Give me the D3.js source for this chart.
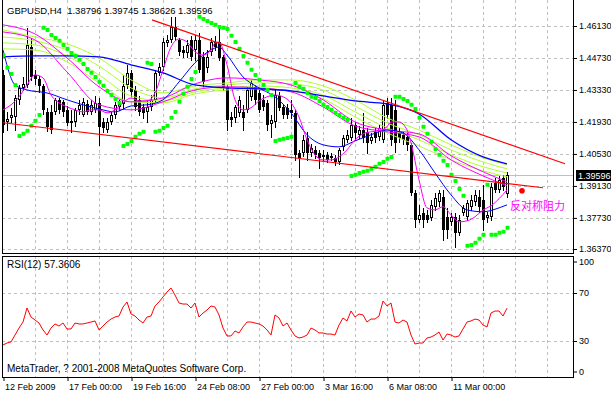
<!DOCTYPE html>
<html><head><meta charset="utf-8">
<script src="https://cdn.jsdelivr.net/npm/d3@7"></script>
<style>
body{margin:0;background:#fff}
svg{display:block}
text{font-family:"Liberation Sans",Arial,sans-serif;font-size:9px;fill:#000}
</style>
</head><body>
<svg id="c" width="611" height="395"></svg>
<script>
// ---------- data ----------
const symbol = "GBPUSD,H4";
const open = [1.4399,1.4193,1.4211,1.4215,1.4290,1.4342,1.4355,1.4521,1.4399,1.4381,
 1.4351,1.4237,1.4237,1.4237,1.4290,1.4281,1.4246,1.4198,1.4193,1.4246,
 1.4224,1.4272,1.4237,1.4246,1.4277,1.4193,1.4158,1.4193,1.4224,1.4259,
 1.4272,1.4355,1.4408,1.4333,1.4290,1.4259,1.4237,1.4259,1.4290,1.4408,
 1.4434,1.4539,1.4552,1.4609,1.4552,1.4508,1.4495,1.4552,1.4508,1.4552,
 1.4478,1.4430,1.4500,1.4543,1.4543,1.4478,1.4347,1.4215,1.4211,1.4233,
 1.4237,1.4246,1.4303,1.4347,1.4320,1.4290,1.4277,1.4185,1.4193,1.4307,
 1.4259,1.4255,1.4246,1.4233,1.4058,1.4058,1.4123,1.4058,1.4071,1.4058,
 1.4040,1.4049,1.4036,1.4036,1.4018,1.4084,1.4115,1.4123,1.4180,1.4137,
 1.4158,1.4150,1.4110,1.4150,1.4128,1.4115,1.4277,1.4268,1.4246,1.4145,
 1.4137,1.4128,1.4093,1.3883,1.3765,1.3795,1.3787,1.3773,1.3822,1.3843,
 1.3865,1.3778,1.3756,1.3778,1.3708,1.3795,1.3778,1.3822,1.3843,1.3865,
 1.3852,1.3773,1.3778,1.3927,1.3896,1.3948,1.38796];
const high = [1.4421,1.4237,1.4255,1.4311,1.4355,1.4390,1.4605,1.4561,1.4421,1.4395,
 1.4360,1.4255,1.4268,1.4298,1.4298,1.4290,1.4263,1.4246,1.4255,1.4290,
 1.4298,1.4290,1.4290,1.4307,1.4298,1.4211,1.4211,1.4237,1.4281,1.4290,
 1.4399,1.4443,1.4421,1.4351,1.4307,1.4272,1.4290,1.4311,1.4421,1.4452,
 1.4561,1.4574,1.4653,1.4653,1.4561,1.4526,1.4552,1.4570,1.4574,1.4583,
 1.4500,1.4508,1.4561,1.4570,1.4609,1.4486,1.4355,1.4237,1.4268,1.4307,
 1.4268,1.4347,1.4377,1.4355,1.4333,1.4311,1.4290,1.4224,1.4333,1.4325,
 1.4272,1.4272,1.4290,1.4246,1.4071,1.4137,1.4150,1.4097,1.4088,1.4071,
 1.4071,1.4062,1.4058,1.4049,1.4080,1.4137,1.4158,1.4211,1.4193,1.4176,
 1.4233,1.4167,1.4145,1.4167,1.4180,1.4290,1.4298,1.4298,1.4290,1.4167,
 1.4150,1.4145,1.4102,1.3896,1.3830,1.3817,1.3808,1.3852,1.3883,1.3896,
 1.3896,1.3817,1.3795,1.3795,1.3787,1.3830,1.3852,1.3874,1.3896,1.3896,
 1.3918,1.3800,1.3927,1.3948,1.3957,1.3962,1.39745];
const low = [1.4150,1.4158,1.4193,1.4158,1.4272,1.4333,1.4347,1.4377,1.4360,1.4325,
 1.4228,1.4154,1.4145,1.4228,1.4233,1.4220,1.4180,1.4150,1.4176,1.4228,
 1.4220,1.4228,1.4228,1.4237,1.4093,1.4150,1.4150,1.4185,1.4211,1.4246,
 1.4255,1.4342,1.4307,1.4246,1.4224,1.4211,1.4193,1.4246,1.4281,1.4399,
 1.4421,1.4526,1.4543,1.4552,1.4486,1.4478,1.4478,1.4465,1.4465,1.4412,
 1.4342,1.4412,1.4486,1.4508,1.4465,1.4333,1.4158,1.4176,1.4193,1.4220,
 1.4158,1.4237,1.4290,1.4272,1.4237,1.4246,1.4158,1.4128,1.4172,1.4246,
 1.4211,1.4211,1.4211,1.4027,1.3953,1.4045,1.4027,1.4045,1.4036,1.3992,
 1.4027,1.4018,1.4027,1.4005,1.4010,1.4071,1.4106,1.4115,1.4115,1.4123,
 1.4106,1.4058,1.4102,1.4106,1.4115,1.4106,1.4211,1.4093,1.4062,1.4106,
 1.4097,1.4071,1.3874,1.3734,1.3756,1.3734,1.3756,1.3765,1.3808,1.3826,
 1.3677,1.3686,1.3743,1.3647,1.3699,1.3787,1.3765,1.3808,1.3830,1.3800,
 1.3721,1.3756,1.3765,1.3887,1.3887,1.3896,1.38626];
const close = [1.4180,1.4207,1.4224,1.4298,1.4342,1.4360,1.4530,1.4390,1.4381,1.4351,
 1.4246,1.4172,1.4158,1.4290,1.4246,1.4237,1.4189,1.4189,1.4246,1.4268,
 1.4281,1.4237,1.4268,1.4277,1.4172,1.4167,1.4193,1.4224,1.4268,1.4272,
 1.4351,1.4408,1.4325,1.4259,1.4237,1.4233,1.4259,1.4290,1.4408,1.4434,
 1.4543,1.4552,1.4609,1.4565,1.4500,1.4495,1.4530,1.4478,1.4552,1.4421,
 1.4368,1.4478,1.4543,1.4521,1.4473,1.4347,1.4202,1.4202,1.4259,1.4290,
 1.4211,1.4333,1.4364,1.4290,1.4246,1.4259,1.4180,1.4202,1.4311,1.4255,
 1.4224,1.4224,1.4233,1.4049,1.4036,1.4115,1.4058,1.4080,1.4049,1.4036,
 1.4049,1.4027,1.4045,1.4018,1.4071,1.4123,1.4137,1.4180,1.4145,1.4158,
 1.4123,1.4102,1.4128,1.4123,1.4167,1.4268,1.4224,1.4115,1.4102,1.4123,
 1.4115,1.4093,1.3883,1.3765,1.3787,1.3765,1.3765,1.3830,1.3861,1.3883,
 1.3721,1.3721,1.3778,1.3708,1.3765,1.3817,1.3839,1.3852,1.3874,1.3822,
 1.3765,1.3787,1.3909,1.3896,1.3940,1.3909,1.39596];
const sar = [1.4486,1.4430,1.4403,1.4355,1.4132,1.4141,1.4154,1.4176,1.4198,1.4224,
 1.4605,1.4596,1.4574,1.4561,1.4548,1.4530,1.4513,1.4495,1.4482,1.4465,
 1.4447,1.4425,1.4408,1.4390,1.4368,1.4351,1.4329,1.4311,1.4294,1.4277,
 1.4088,1.4097,1.4110,1.4128,1.4141,1.4150,1.4452,1.4447,1.4150,1.4154,
 1.4167,1.4176,1.4211,1.4237,1.4281,1.4316,1.4347,1.4381,1.4412,1.4653,
 1.4644,1.4635,1.4626,1.4618,1.4609,1.4605,1.4600,1.4570,1.4543,1.4513,
 1.4482,1.4452,1.4421,1.4399,1.4377,1.4355,1.4333,1.4311,1.4110,1.4115,
 1.4119,1.4123,1.4128,1.4364,1.4347,1.4338,1.4320,1.4303,1.4298,1.4285,
 1.4268,1.4259,1.4246,1.4233,1.4224,1.4211,1.4202,1.3957,1.3962,1.3970,
 1.3975,1.3979,1.3988,1.3997,1.4010,1.4018,1.4032,1.4040,1.4303,1.4303,
 1.4294,1.4285,1.4268,1.4250,1.4211,1.4172,1.4141,1.4106,1.4075,1.4049,
 1.4023,1.4005,1.3962,1.3935,1.3900,1.3870,1.3651,1.3655,1.3664,1.3682,
 1.3699,1.3918,1.3699,1.3699,1.3708,1.3712,1.3730];
const rsi = [26.7,28.3,29.2,35,40.8,45.8,57.5,50,47.5,45,
 39.2,35,40.8,44.2,42.5,45,40,40,45,44.2,
 44.2,45,45.8,46.7,39.2,42.5,45.8,48.3,50,50.8,
 58.3,62.5,52.5,50.8,47.5,45,50,50.8,59.2,62.5,
 66.7,70.8,74.2,68.3,61.7,60.8,60.8,57.5,61.7,50,
 53.3,55.8,59.2,58.3,51.7,40.8,34.2,34.2,38.3,36.7,
 41.7,45.8,45.8,45,44.2,42.5,39.2,35,51.7,49.2,
 42.5,45,39.2,34.2,32.5,33.3,35,40.8,39.2,36.7,
 36.7,35.8,35.8,35,43.3,49.2,46.7,55,50,52.5,
 51.7,45.8,48.3,48.3,50.8,63.3,59.2,61.7,45.8,45,
 47.5,45.8,35,27.5,28.3,28.3,32.5,33.3,35,37.5,
 30.8,35.8,35,33.3,34.2,40,45.8,46.7,48.3,47.5,
 43.3,41.7,53.3,55,55,50.8,57.3606];

// moving-average lines, read at sampled bar indices
const maIdx = [0,8,16,24,32,40,48,56,64,72,80,88,96,104,112,120,126];
const blueSlow = [1.4478,1.4482,1.4482,1.4478,1.4443,1.4408,1.4355,1.4342,1.4338,1.4329,1.4307,1.4285,1.4272,1.4228,1.4115,1.4040,1.4010];
const magSlow1 = [1.4618,1.4578,1.4473,1.4347,1.4281,1.4298,1.4360,1.4386,1.4377,1.4355,1.4290,1.4193,1.4158,1.4141,1.4045,1.3975,1.3931];
const magSlow2 = [1.4587,1.4552,1.4412,1.4268,1.4246,1.4281,1.4333,1.4347,1.4342,1.4325,1.4259,1.4176,1.4150,1.4128,1.4027,1.3957,1.3914];
const green1 = [1.4596,1.4565,1.4535,1.4473,1.4377,1.4320,1.4351,1.4364,1.4377,1.4377,1.4351,1.4290,1.4211,1.4158,1.4093,1.4036,1.4005];
const green2 = [1.4565,1.4548,1.4508,1.4438,1.4342,1.4298,1.4338,1.4355,1.4364,1.4360,1.4333,1.4263,1.4189,1.4137,1.4071,1.4018,1.3988];
const green3 = [1.4539,1.4530,1.4482,1.4399,1.4307,1.4285,1.4325,1.4342,1.4351,1.4342,1.4311,1.4237,1.4167,1.4115,1.4049,1.3997,1.3970];
const green4 = [1.4513,1.4508,1.4456,1.4364,1.4281,1.4277,1.4316,1.4333,1.4338,1.4329,1.4294,1.4215,1.4145,1.4088,1.4027,1.3979,1.3953];
const blueFastIdx = [0,3,6,11,16,20,24,28,32,36,40,44,48,52,54,56,60,64,68,72,76,80,84,88,92,96,100,104,108,112,116,120,124,126];
const blueFast = [1.4508,1.4355,1.4333,1.4320,1.4290,1.4268,1.4250,1.4237,1.4263,1.4268,
 1.4290,1.4368,1.4452,1.4508,1.4521,1.4486,1.4390,1.4342,1.4303,1.4233,
 1.4137,1.4093,1.4084,1.4110,1.4137,1.4158,1.4145,1.4071,1.3970,1.3874,
 1.3808,1.3800,1.3817,1.3830];
const magFastIdx = [0,2,4,6,8,10,12,14,16,18,20,22,24,26,28,30,32,34,36,38,40,42,44,46,48,
 50,52,53,54,56,58,60,62,64,66,68,70,72,74,76,78,80,82,84,86,88,90,92,94,96,
 97,99,101,102,104,106,108,110,112,114,116,118,120,122,124,126];
const magFast = [1.4246,1.4268,1.4303,1.4355,1.4399,1.4386,1.4311,1.4277,1.4259,1.4246,
 1.4237,1.4246,1.4246,1.4233,1.4246,1.4277,1.4298,1.4285,1.4285,1.4320,
 1.4421,1.4521,1.4556,1.4543,1.4500,1.4486,1.4508,1.4539,1.4543,1.4443,
 1.4290,1.4246,1.4255,1.4285,1.4303,1.4311,1.4303,1.4277,1.4215,1.4115,
 1.4049,1.4027,1.4027,1.4040,1.4071,1.4115,1.4141,1.4150,1.4154,1.4172,
 1.4193,1.4193,1.4158,1.4102,1.3940,1.3817,1.3808,1.3822,1.3787,1.3756,
 1.3760,1.3778,1.3808,1.3826,1.3857,1.3896];

// drawn objects
const trendUpperIdx = [37.25, 140.5], trendUpperPx = [1.4640, 1.4010];
const trendLowerIdx = [-0.25, 135], trendLowerPx = [1.4190, 1.3905];
const markerIdx = 129.75, markerPx = 1.3892;
const noteText = "反对称阻力", noteIdx = 126.75, notePx = 1.3830;

// axes
const priceTickLabels = ["1.46130","1.44730","1.43330","1.41930","1.40530","1.39130","1.37730","1.36370"];
const timeTickIdx = [0,16,32,48,64,80,96,112];
const timeTickLabels = ["12 Feb 2009","17 Feb 00:00","19 Feb 16:00","24 Feb 08:00","27 Feb 00:00","3 Mar 16:00","6 Mar 08:00","11 Mar 00:00"];
const rsiTicks = [100,70,30,0];
const rsiGrid = [70,30];
const rsiPeriod = 12;
const copyright = "MetaTrader, ? 2001-2008 MetaQuotes Software Corp.";

// ---------- layout ----------
const L = 2, R = 573, mainBot = 253, rsiTop = 256, rsiBot = 377;
const svg = d3.select("#c");
svg.append("rect").attr("width",611).attr("height",395).attr("fill","#fff");

const x = d3.scaleLinear().domain([0,126]).range([3,507]);
const y = d3.scaleLinear().domain([1.3637,1.4613]).range([249,26]);
const yR = d3.scaleLinear().domain([0,100]).range([377,257]);
const col = i => Math.round(x(i));
const crisp = v => Math.round(v) + 0.5;

const defs = svg.append("defs");
defs.append("clipPath").attr("id","cm").append("rect").attr("x",L+1).attr("y",0).attr("width",R-L-1).attr("height",mainBot);
defs.append("clipPath").attr("id","cr").append("rect").attr("x",L+1).attr("y",rsiTop+1).attr("width",R-L-1).attr("height",rsiBot-rsiTop-1);

const gridColor = "#c0c0c0", dash = "3,3";
const gridIdx = d3.range(8, 137, 8);

// grid main
const gm = svg.append("g").attr("shape-rendering","crispEdges");
gm.selectAll("line.h").data(priceTickLabels.map(Number)).join("line")
  .attr("x1",L).attr("x2",R).attr("y1",d=>crisp(y(d))).attr("y2",d=>crisp(y(d)))
  .attr("stroke",gridColor).attr("stroke-dasharray",dash);
gm.selectAll("line.v").data(gridIdx).join("line")
  .attr("x1",d=>col(d)+0.5).attr("x2",d=>col(d)+0.5).attr("y1",0).attr("y2",mainBot)
  .attr("stroke",gridColor).attr("stroke-dasharray",dash);
// grid rsi
const gr = svg.append("g").attr("shape-rendering","crispEdges");
gr.selectAll("line.h").data(rsiGrid).join("line")
  .attr("x1",L).attr("x2",R).attr("y1",d=>crisp(yR(d))).attr("y2",d=>crisp(yR(d)))
  .attr("stroke",gridColor).attr("stroke-dasharray",dash);
gr.selectAll("line.v").data(gridIdx).join("line")
  .attr("x1",d=>col(d)+0.5).attr("x2",d=>col(d)+0.5).attr("y1",rsiTop).attr("y2",rsiBot)
  .attr("stroke",gridColor).attr("stroke-dasharray",dash);

const last = close.length - 1;
// current price line
svg.append("line").attr("x1",L).attr("x2",R)
  .attr("y1",crisp(y(close[last]))).attr("y2",crisp(y(close[last])))
  .attr("stroke","#c0c0c0");

const main = svg.append("g").attr("clip-path","url(#cm)");

// candles
const cg = main.append("g").attr("shape-rendering","crispEdges");
const idx = d3.range(close.length);
cg.selectAll("line").data(idx).join("line")
  .attr("x1",i=>col(i)+0.5).attr("x2",i=>col(i)+0.5)
  .attr("y1",i=>Math.round(y(high[i]))).attr("y2",i=>Math.round(y(low[i]))+1)
  .attr("stroke","#000");
cg.selectAll("rect").data(idx).join("rect")
  .each(function(i){
    const yo = Math.round(y(open[i])), yc = Math.round(y(close[i]));
    const top = Math.min(yo,yc), h = Math.max(1, Math.abs(yo-yc));
    const r = d3.select(this);
    if (close[i] < open[i]) {
      r.attr("x",col(i)-1).attr("y",top).attr("width",3).attr("height",h).attr("fill","#000");
    } else {
      r.attr("x",col(i)-0.5).attr("y",top+0.5).attr("width",2).attr("height",Math.max(0,h-1))
       .attr("fill","#fff").attr("stroke","#000");
    }
  });

// MA lines
function drawLine(idxArr, vals, color, w){
  const gen = d3.line().x((d,k)=>x(idxArr[k])).y(d=>y(d)).curve(d3.curveMonotoneX);
  main.append("path").attr("d",gen(vals)).attr("fill","none").attr("stroke",color).attr("stroke-width",w);
}
const gy = "#adff2f";
drawLine(maIdx, green4, gy, 1);
drawLine(maIdx, green3, gy, 1);
drawLine(maIdx, green2, gy, 1);
drawLine(maIdx, green1, gy, 1);
drawLine(maIdx, magSlow2, "#ff00ff", 1);
drawLine(maIdx, magSlow1, "#ff00ff", 1);
drawLine(maIdx, blueSlow, "#0000ff", 1.3);
drawLine(blueFastIdx, blueFast, "#0000ff", 1);
drawLine(magFastIdx, magFast, "#ff00ff", 1);

// Parabolic SAR
main.append("g").selectAll("rect").data(idx).join("rect")
  .attr("x",i=>col(i)-1.5).attr("y",i=>y(sar[i])-2).attr("width",4).attr("height",4).attr("rx",0.8)
  .attr("fill","#00ff00");

// trend lines
function drawTrend(ix, px){
  main.append("line").attr("x1",x(ix[0])).attr("y1",y(px[0])).attr("x2",x(ix[1])).attr("y2",y(px[1]))
    .attr("stroke","#ff0000").attr("stroke-width",1.2);
}
drawTrend(trendUpperIdx, trendUpperPx);
drawTrend(trendLowerIdx, trendLowerPx);
main.append("circle").attr("cx",x(markerIdx)).attr("cy",y(markerPx)).attr("r",2.8).attr("fill","#ff0000");
svg.append("text").attr("x",x(noteIdx)).attr("y",y(notePx)+5).text(noteText)
  .style("font-family","'Noto Sans CJK SC',sans-serif").style("font-size","11px").style("fill","#ff00ff");

// RSI
const rsiG = svg.append("g").attr("clip-path","url(#cr)");
rsiG.append("path").attr("d", d3.line().x((d,i)=>x(i)).y(d=>yR(d))(rsi))
  .attr("fill","none").attr("stroke","#ff0000").attr("stroke-width",1);

// borders
const bd = svg.append("g").attr("stroke","#000").attr("fill","none").attr("shape-rendering","crispEdges");
bd.append("line").attr("x1",L+0.5).attr("x2",L+0.5).attr("y1",0).attr("y2",mainBot+0.5);
bd.append("line").attr("x1",R+0.5).attr("x2",R+0.5).attr("y1",0).attr("y2",mainBot+0.5);
bd.append("line").attr("x1",L).attr("x2",R+1).attr("y1",mainBot+0.5).attr("y2",mainBot+0.5);
bd.append("rect").attr("x",L+0.5).attr("y",rsiTop+0.5).attr("width",R-L).attr("height",rsiBot-rsiTop);

// price axis
const pa = svg.append("g").attr("transform",`translate(${R+1},0)`)
  .call(d3.axisRight(y).tickValues(priceTickLabels.map(Number)).tickFormat((d,i)=>priceTickLabels[i]).tickSize(3).tickPadding(2));
pa.select(".domain").remove();
pa.selectAll("text").style("font-size","9px").attr("font-family",null);
pa.selectAll("line").attr("stroke","#000");

// current price box
const cy = y(close[last]);
svg.append("rect").attr("x",576).attr("y",Math.round(cy)-5).attr("width",35).attr("height",11).attr("fill","#000");
svg.append("text").attr("x",578).attr("y",Math.round(cy)+4).text(close[last].toFixed(5)).style("fill","#fff");

// RSI axis
const ra = svg.append("g").attr("transform",`translate(${R+1},0)`)
  .call(d3.axisRight(yR).tickValues(rsiTicks).tickFormat(d3.format("d")).tickSize(3).tickPadding(2));
ra.select(".domain").remove();
ra.selectAll(".tick").filter(d=>d===100).attr("transform",`translate(0,${yR(100)+5})`);
ra.selectAll(".tick").filter(d=>d===0).attr("transform",`translate(0,${yR(0)-5})`);
ra.selectAll("text").style("font-size","9px");

// time axis
const ta = svg.append("g").attr("transform",`translate(0.5,${rsiBot})`)
  .call(d3.axisBottom(x).tickValues(timeTickIdx).tickFormat((d,i)=>timeTickLabels[i]).tickSize(4).tickPadding(3));
ta.select(".domain").remove();
ta.selectAll("text").attr("text-anchor","start").attr("dx","1").style("font-size","9px");

// titles
svg.append("text").attr("x",7).attr("y",14).style("white-space","pre").style("font-size","9.5px")
  .text(`${symbol}  ${open[last].toFixed(5)} ${high[last].toFixed(5)} ${low[last].toFixed(5)} ${close[last].toFixed(5)}`);
svg.append("text").attr("x",7).attr("y",268).style("font-size","10px").text(`RSI(${rsiPeriod}) ${rsi[last].toFixed(4)}`);
svg.append("text").attr("x",7).attr("y",372).style("font-size","10px").text(copyright);
</script>
</body></html>
